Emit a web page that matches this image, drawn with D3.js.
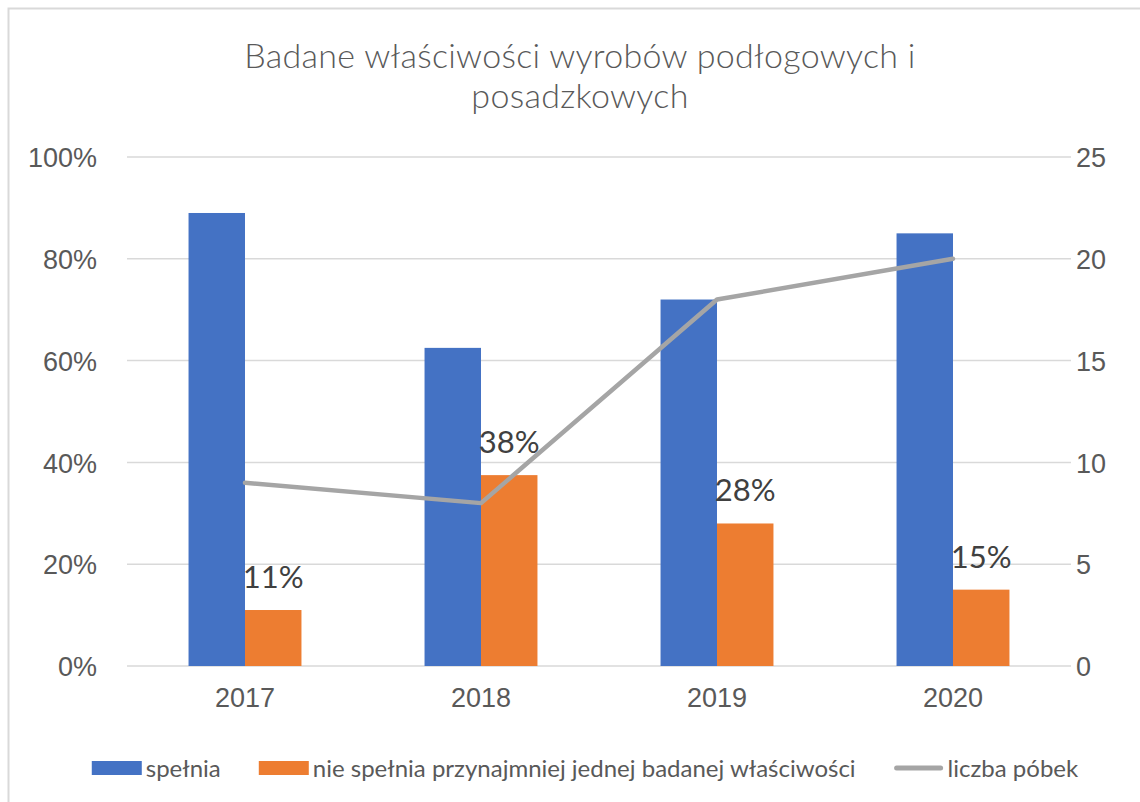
<!DOCTYPE html>
<html>
<head>
    <meta charset="utf-8">
    <script src="https://d3js.org/d3.v7.min.js"></script>
    <style>
        body {
            margin: 0;
            background: #fff;
            font-family: Lato, "Open Sans", sans-serif;
        }

        .grid line {
            stroke: #d9d9d9;
            stroke-width: 1.5px;
        }

        .axis text {
            fill: #595959;
            font-size: 27px;
        }
    </style>
</head>
<body>
    <script>
        const years = ["2017", "2018", "2019", "2020"];
        const spelnia = [0.89, 0.625, 0.72, 0.85];
        const nieSpelnia = [0.11, 0.375, 0.28, 0.15];
        const liczbaProbek = [9, 8, 18, 20];
        const leftTicks = [0, 0.2, 0.4, 0.6, 0.8, 1];
        const rightTicks = [0, 5, 10, 15, 20, 25];
        const seriesNames = ["spełnia", "nie spełnia przynajmniej jednej badanej właściwości", "liczba póbek"];
        const colors = ["#4472c4", "#ed7d31", "#a5a5a5"];

        const width = 1140, height = 802;
        const plot = { left: 127, right: 1071, top: 157, bottom: 666 };

        const svg = d3.select("body").append("svg")
            .attr("width", width)
            .attr("height", height);

        // chart frame (only left and top edges are visible)
        svg.append("rect")
            .attr("x", 8.5).attr("y", 8.5)
            .attr("width", width + 20).attr("height", height + 20)
            .attr("fill", "#fff")
            .attr("stroke", "#d9d9d9")
            .attr("stroke-width", 2);

        const title = svg.append("text")
            .attr("x", 580)
            .attr("text-anchor", "middle")
            .attr("fill", "#595959")
            .style("font-size", "34px")
            .style("font-weight", 300)
            .style("letter-spacing", "0.3px");
        title.selectAll("tspan")
            .data(["Badane właściwości wyrobów podłogowych i", "posadzkowych"])
            .enter().append("tspan")
            .attr("x", 580)
            .attr("y", (d, i) => 68 + i * 40)
            .text(d => d);

        const x = d3.scaleBand().domain(years).range([plot.left, plot.right]).padding(0);
        const xSub = d3.scaleBand().domain([0, 1]).range([0, x.bandwidth()]).paddingInner(0).paddingOuter(1.09);
        const y = d3.scaleLinear().domain([0, 1]).range([plot.bottom, plot.top]);
        const y2 = d3.scaleLinear().domain([0, 25]).range([plot.bottom, plot.top]);

        svg.append("g")
            .attr("class", "grid")
            .selectAll("line")
            .data(leftTicks)
            .enter().append("line")
            .attr("x1", plot.left).attr("x2", plot.right)
            .attr("y1", d => y(d)).attr("y2", d => y(d));

        const leftAxis = svg.append("g")
            .attr("class", "axis")
            .attr("transform", `translate(${plot.left - 30},0)`)
            .call(d3.axisLeft(y).tickValues(leftTicks).tickFormat(d3.format(".0%")).tickSize(0).tickPadding(0));
        leftAxis.select(".domain").remove();
        leftAxis.selectAll("text").attr("dy", "0.36em");

        const rightAxis = svg.append("g")
            .attr("class", "axis")
            .attr("transform", `translate(${plot.right + 5},0)`)
            .call(d3.axisRight(y2).tickValues(rightTicks).tickSize(0).tickPadding(0));
        rightAxis.select(".domain").remove();
        rightAxis.selectAll("text").attr("dy", "0.36em");

        const bottomAxis = svg.append("g")
            .attr("class", "axis")
            .attr("transform", `translate(0,${plot.bottom})`)
            .call(d3.axisBottom(x).tickSize(0).tickPadding(31));
        bottomAxis.select(".domain").remove();
        bottomAxis.selectAll("text").attr("dy", "0.36em");

        const groups = svg.append("g")
            .selectAll("g")
            .data(years)
            .enter().append("g")
            .attr("transform", d => `translate(${x(d)},0)`);

        groups.append("rect")
            .attr("x", xSub(0))
            .attr("width", xSub.bandwidth())
            .attr("y", (d, i) => y(spelnia[i]))
            .attr("height", (d, i) => y(0) - y(spelnia[i]))
            .attr("fill", colors[0]);

        groups.append("rect")
            .attr("x", xSub(1))
            .attr("width", xSub.bandwidth())
            .attr("y", (d, i) => y(nieSpelnia[i]))
            .attr("height", (d, i) => y(0) - y(nieSpelnia[i]))
            .attr("fill", colors[1]);

        const line = d3.line()
            .x((d, i) => x(years[i]) + x.bandwidth() / 2)
            .y(d => y2(d));

        svg.append("path")
            .datum(liczbaProbek)
            .attr("d", line)
            .attr("fill", "none")
            .attr("stroke", colors[2])
            .attr("stroke-width", 4.5)
            .attr("stroke-linecap", "round")
            .attr("stroke-linejoin", "round");

        groups.append("text")
            .attr("x", xSub(1) + xSub.bandwidth() / 2)
            .attr("y", (d, i) => y(nieSpelnia[i]) - 22)
            .attr("text-anchor", "middle")
            .attr("fill", "#404040")
            .style("font-size", "31px")
            .text((d, i) => d3.format(".0%")(nieSpelnia[i]));

        // legend: laid out left to right, then centred
        const legend = svg.append("g");
        const gap = 38;
        let cursor = 0;
        seriesNames.forEach((name, i) => {
            const g = legend.append("g").attr("transform", `translate(${cursor},0)`);
            if (i < 2) {
                g.append("rect")
                    .attr("x", 0).attr("y", -7)
                    .attr("width", 50).attr("height", 14)
                    .attr("fill", colors[i]);
            } else {
                g.append("line")
                    .attr("x1", 3).attr("x2", 47)
                    .attr("stroke", colors[2])
                    .attr("stroke-width", 5)
                    .attr("stroke-linecap", "round");
            }
            const t = g.append("text")
                .attr("x", 54)
                .attr("dy", "0.36em")
                .attr("fill", "#595959")
                .style("font-size", "24px")
                .text(name);
            cursor += 54 + t.node().getComputedTextLength() + gap;
        });
        const legendWidth = cursor - gap;
        legend.attr("transform", `translate(${585 - legendWidth / 2},768)`);
    </script>
</body>
</html>
